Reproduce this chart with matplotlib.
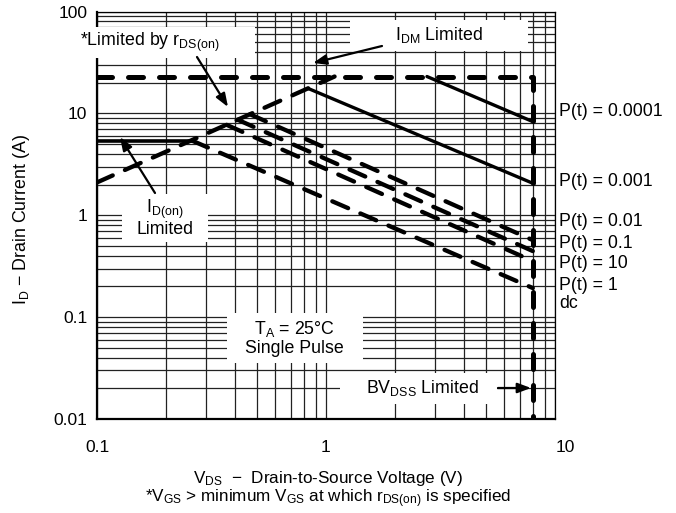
import matplotlib
matplotlib.use("Agg")
import matplotlib.pyplot as plt
import matplotlib.transforms as mtransforms
from matplotlib.patches import Rectangle

plt.rcParams['font.family'] = ['Liberation Sans', 'DejaVu Sans']
plt.rcParams['mathtext.default'] = 'regular'

# ---------------- data (V in volts, I in amps) ----------------
rds_v = [0.1, 1.09]
rds_i = [2.1, 23.0]

idon_v = [0.1, 0.26]
idon_i = [5.35, 5.35]

idm_v = [0.1, 8.0, 8.0]
idm_i = [23.0, 23.0, 0.01]

p0001_v = [2.76, 8.0]
p0001_i = [23.0, 8.3]
p001_v = [0.834, 8.0]
p001_i = [17.6, 2.06]

p01_v = [0.466, 8.0]
p01_i = [9.8, 0.57]
p1_v = [0.412, 8.0]
p1_i = [8.65, 0.445]
p10_v = [0.368, 8.0]
p10_i = [7.72, 0.355]
dc_v = [0.26, 8.0]
dc_i = [5.4, 0.193]

x_ticks = [0.1, 1, 10]
x_ticklabels = ["0.1", "1", "10"]
y_ticks = [0.01, 0.1, 1, 10, 100]
y_ticklabels = ["0.01", "0.1", "1", "10", "100"]

curve_labels = ["P(t) = 0.0001", "P(t) = 0.001", "P(t) = 0.01", "P(t) = 0.1",
                "P(t) = 10", "P(t) = 1", "dc"]

# ---------------- figure ----------------
W, H = 676, 513
fig = plt.figure(figsize=(W / 100, H / 100), dpi=100)
L, R, T, B = 97, 555, 11.5, 419
ax = fig.add_axes([L / W, 1 - B / H, (R - L) / W, (B - T) / H])
ax.set_xscale('log')
ax.set_yscale('log')
ax.set_xlim(0.1, 10)
ax.set_ylim(0.01, 100)

fs = 12.8
ax.grid(True, which='both', color='#222222', lw=0.9, zorder=0)
ax.set_axisbelow(True)
ax.tick_params(which='both', length=0)
ax.set_xticks(x_ticks)
ax.set_xticklabels(x_ticklabels, fontsize=12.5)
ax.set_yticks(y_ticks)
ax.set_yticklabels(y_ticklabels, fontsize=12.5)
ax.tick_params(axis='x', pad=15)
ax.tick_params(axis='y', pad=7)
ax.minorticks_on()
ax.tick_params(which='minor', length=0, labelleft=False, labelbottom=False)
# last x tick label sits a little right of its grid line, as in the original
xl = ax.get_xticklabels()
xl[-1].set_transform(xl[-1].get_transform() +
                     mtransforms.ScaledTranslation(10 / 100, 0, fig.dpi_scale_trans))
for s in ['left', 'bottom']:
    ax.spines[s].set_linewidth(1.6)
for s in ['top', 'right']:
    ax.spines[s].set_linewidth(0.9)


def ax_frac(px, py):
    return ((px - L) / (R - L), (B - py) / (B - T))


# ---------------- curves ----------------
thick_dash = dict(color='black', lw=3.6, dash_capstyle='round',
                  solid_joinstyle='round', zorder=4)
ax.plot(idm_v, idm_i, linestyle=(0, (3.0, 3.2)), **thick_dash)
mid_dash = dict(color='black', lw=3.1, dash_capstyle='round', zorder=4)
ax.plot(rds_v, rds_i, linestyle=(0, (4.0, 3.1)), **mid_dash)
for v, i in [(p01_v, p01_i), (p1_v, p1_i), (p10_v, p10_i), (dc_v, dc_i)]:
    ax.plot(v, i, linestyle=(0, (4.0, 3.1)), **mid_dash)
ax.plot(p0001_v, p0001_i, color='black', lw=2.4, solid_capstyle='round', zorder=4)
ax.plot(p001_v, p001_i, color='black', lw=2.4, solid_capstyle='round', zorder=4)
ax.plot(idon_v, idon_i, color='black', lw=2.6, solid_capstyle='butt', zorder=4)

# ---------------- white label boxes ----------------
def white_box(x0, y0, x1, y1):
    a0 = ax_frac(x0, y1)
    a1 = ax_frac(x1, y0)
    ax.add_patch(Rectangle(a0, a1[0] - a0[0], a1[1] - a0[1],
                           transform=ax.transAxes, facecolor='white',
                           edgecolor='none', zorder=5, clip_on=False))

white_box(76, 27, 255, 58)
ax.text(*ax_frac(80, 42), r"*Limited by r$_{DS(on)}$", transform=ax.transAxes,
        fontsize=fs, ha='left', va='center', zorder=6)

white_box(350, 20, 528, 51)
ax.text(*ax_frac(439, 35), r"I$_{DM}$ Limited", transform=ax.transAxes,
        fontsize=fs, ha='center', va='center', zorder=6)

white_box(122, 194, 208, 242)
ax.text(*ax_frac(165, 218), "I$_{D(on)}$\nLimited", transform=ax.transAxes,
        fontsize=fs, ha='center', va='center', linespacing=1.0, zorder=6)

white_box(227, 313, 363, 363)
ax.text(*ax_frac(294, 338), "T$_{A}$ = 25°C\nSingle Pulse", transform=ax.transAxes,
        fontsize=fs, ha='center', va='center', linespacing=1.05, zorder=6)

white_box(340, 373, 497, 404)
ax.text(*ax_frac(422, 388), r"BV$_{DSS}$ Limited", transform=ax.transAxes,
        fontsize=fs, ha='center', va='center', zorder=6)

# ---------------- arrows ----------------
arrow_kw = dict(arrowstyle='-|>,head_length=0.8,head_width=0.3', color='black',
                lw=1.6, shrinkA=0, shrinkB=0)
for tail, head in [((197, 57), (228, 107)), ((382, 46), (313, 63)),
                   ((155, 193), (120, 137)), ((498, 388), (531, 388))]:
    ax.annotate("", xy=ax_frac(*head), xycoords='axes fraction',
                xytext=ax_frac(*tail), textcoords='axes fraction',
                arrowprops=arrow_kw, zorder=7, annotation_clip=False)

# ---------------- right-hand curve labels ----------------
label_y = [112, 181, 222, 244, 264, 285, 303]
for txt, py in zip(curve_labels, label_y):
    fig.text(559 / W, 1 - py / H, txt, fontsize=fs, ha='left', va='center')

# ---------------- axis titles ----------------
fig.text(22 / W, 1 - 220 / H, "I$_{D}$ − Drain Current (A)", rotation=90,
         fontsize=fs, ha='center', va='center')
fig.text(328 / W, 1 - 479 / H, "V$_{DS}$  −  Drain-to-Source Voltage (V)",
         fontsize=12.3, ha='center', va='center')
fig.text(328 / W, 1 - 499 / H,
         "*V$_{GS}$ > minimum V$_{GS}$ at which r$_{DS(on)}$ is specified",
         fontsize=12.3, ha='center', va='center')

fig.savefig("out.png", dpi=100)
